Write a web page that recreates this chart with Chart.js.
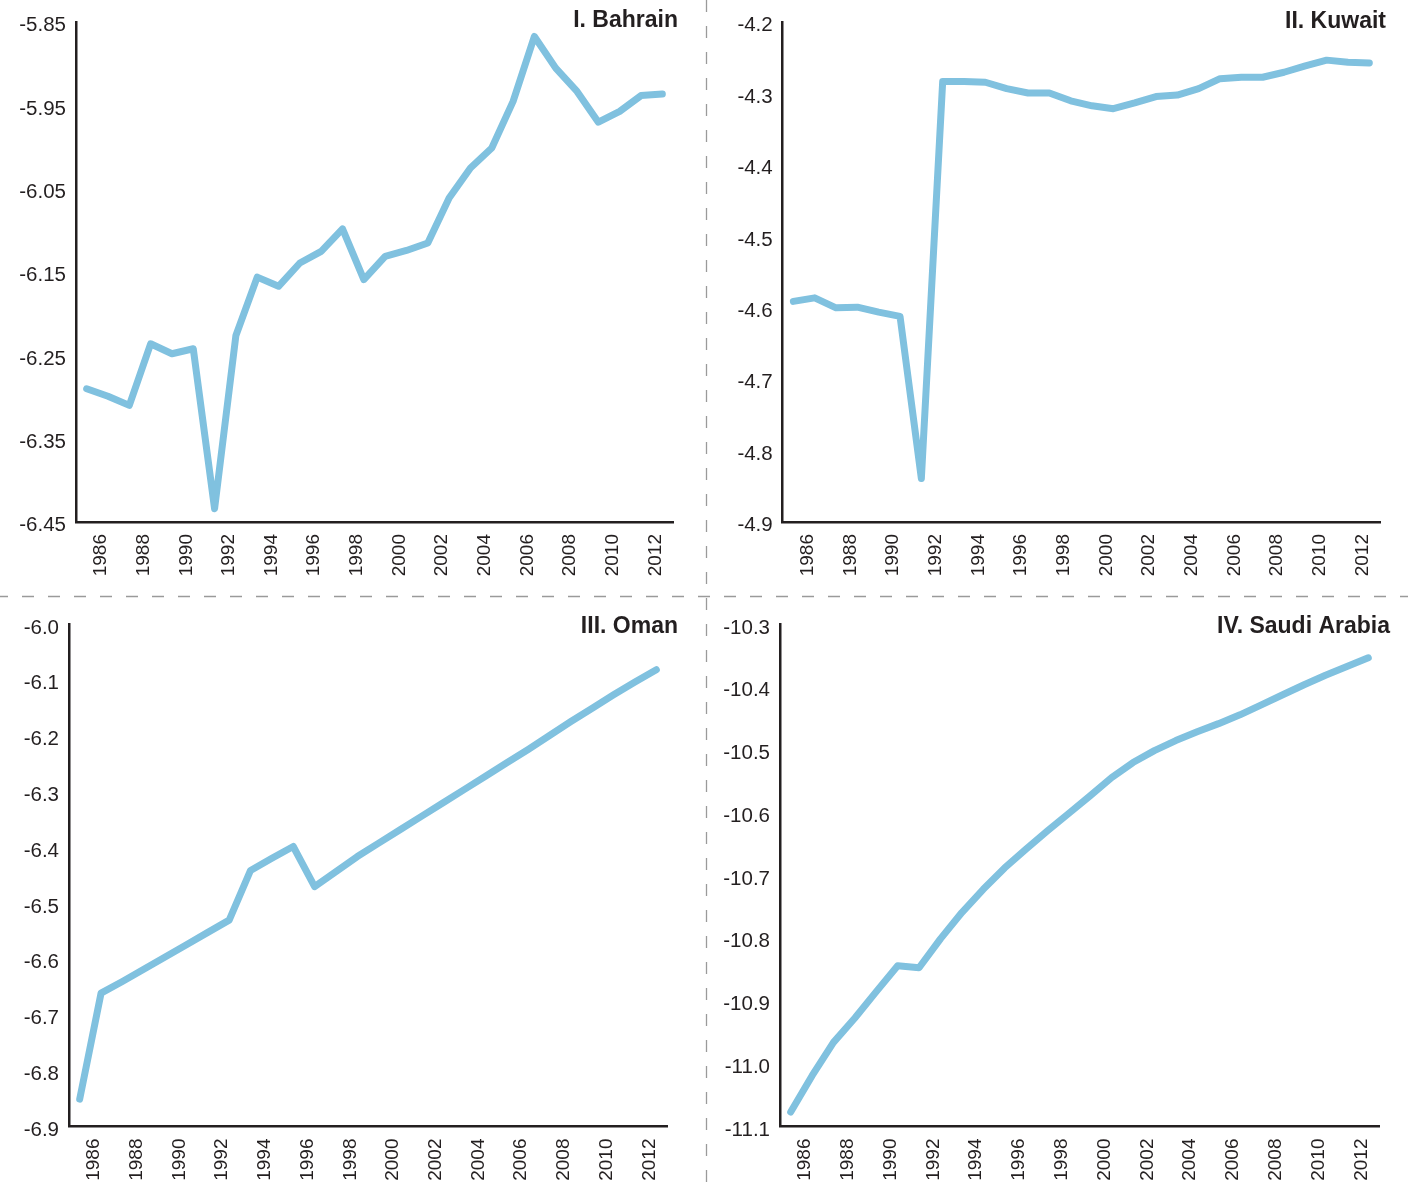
<!DOCTYPE html>
<html>
<head>
<meta charset="utf-8">
<script src="https://cdn.jsdelivr.net/npm/chart.js@4.4.1/dist/chart.umd.min.js"></script>
<style>
  html, body { margin: 0; padding: 0; background: #ffffff; }
  #wrap { position: relative; width: 1408px; height: 1184px; overflow: hidden; }
  canvas { position: absolute; }
</style>
</head>
<body>
<div id="wrap">
  <canvas id="sep" width="1408" height="1184" style="left:0;top:0"></canvas>
  <canvas id="c1" width="704" height="596" style="left:0;top:0"></canvas>
  <canvas id="c2" width="700" height="596" style="left:708px;top:0"></canvas>
  <canvas id="c3" width="704" height="587" style="left:0;top:597px"></canvas>
  <canvas id="c4" width="700" height="587" style="left:708px;top:597px"></canvas>
</div>
<script>
// Years on the horizontal axis (every other one is labelled)
const years = [1985, 1986, 1987, 1988, 1989, 1990, 1991, 1992, 1993, 1994,
               1995, 1996, 1997, 1998, 1999, 2000, 2001, 2002, 2003, 2004,
               2005, 2006, 2007, 2008, 2009, 2010, 2011, 2012];

// Series values
const bahrain = [-6.290, -6.299, -6.310, -6.236, -6.248, -6.242, -6.434, -6.226, -6.156, -6.167,
                 -6.139, -6.125, -6.098, -6.159, -6.131, -6.124, -6.115, -6.061, -6.025, -6.001,
                 -5.945, -5.867, -5.905, -5.933, -5.970, -5.957, -5.938, -5.936];
const kuwait  = [-4.591, -4.586, -4.600, -4.599, -4.606, -4.612, -4.839, -4.283, -4.283, -4.284,
                 -4.293, -4.299, -4.299, -4.310, -4.317, -4.321, -4.313, -4.304, -4.302, -4.293,
                 -4.279, -4.277, -4.277, -4.270, -4.261, -4.253, -4.256, -4.257];
const oman    = [-6.851, -6.661, -6.640, -6.618, -6.596, -6.574, -6.552, -6.530, -6.441, -6.419,
                 -6.398, -6.470, -6.443, -6.416, -6.392, -6.368, -6.344, -6.320, -6.296, -6.272,
                 -6.248, -6.224, -6.199, -6.174, -6.150, -6.126, -6.103, -6.081];
const saudi   = [-11.077, -11.019, -10.966, -10.927, -10.885, -10.844, -10.847, -10.801, -10.759, -10.722,
                 -10.688, -10.658, -10.629, -10.601, -10.573, -10.544, -10.520, -10.501, -10.485, -10.471,
                 -10.458, -10.444, -10.428, -10.412, -10.396, -10.381, -10.367, -10.353];

// Vertical axis ticks
const bahrainTicks = [-6.45, -6.35, -6.25, -6.15, -6.05, -5.95, -5.85];
const bahrainTickLabels = ['-6.45', '-6.35', '-6.25', '-6.15', '-6.05', '-5.95', '-5.85'];
const kuwaitTicks = [-4.9, -4.8, -4.7, -4.6, -4.5, -4.4, -4.3, -4.2];
const kuwaitTickLabels = ['-4.9', '-4.8', '-4.7', '-4.6', '-4.5', '-4.4', '-4.3', '-4.2'];
const omanTicks = [-6.9, -6.8, -6.7, -6.6, -6.5, -6.4, -6.3, -6.2, -6.1, -6.0];
const omanTickLabels = ['-6.9', '-6.8', '-6.7', '-6.6', '-6.5', '-6.4', '-6.3', '-6.2', '-6.1', '-6.0'];
const saudiTicks = [-11.1, -11.0, -10.9, -10.8, -10.7, -10.6, -10.5, -10.4, -10.3];
const saudiTickLabels = ['-11.1', '-11.0', '-10.9', '-10.8', '-10.7', '-10.6', '-10.5', '-10.4', '-10.3'];

// Panel titles
const titles = ['I. Bahrain', 'II. Kuwait', 'III. Oman', 'IV. Saudi Arabia'];

// ---- dashed separators between the four panels ----
(function drawSeparators() {
  const g = document.getElementById('sep').getContext('2d');
  g.strokeStyle = '#9a9a9a';
  g.lineWidth = 1.3;
  g.setLineDash([12, 14]);
  g.lineDashOffset = 4;
  g.beginPath(); g.moveTo(0, 596.5); g.lineTo(1408, 596.5); g.stroke();
  g.lineDashOffset = 0;
  g.beginPath(); g.moveTo(706.5, 0); g.lineTo(706.5, 1184); g.stroke();
})();

const FONT = "'Liberation Sans', Arial, Helvetica, sans-serif";
const INK = '#231f20';
const LINE = '#80c1df';

// Title drawn inside the panel, right aligned at the top
const panelTitle = {
  id: 'panelTitle',
  afterDraw(chart, args, opts) {
    const ctx = chart.ctx;
    ctx.save();
    ctx.font = 'bold 23px ' + FONT;
    ctx.fillStyle = INK;
    ctx.textAlign = 'right';
    ctx.textBaseline = 'middle';
    ctx.fillText(opts.text, opts.x, opts.y);
    ctx.restore();
  }
};

function makePanel(p) {
  const canvas = document.getElementById(p.id);
  const H = canvas.height, W = canvas.width;
  new Chart(canvas, {
    type: 'line',
    data: {
      labels: years,
      datasets: [{
        data: p.values,
        borderColor: LINE,
        borderWidth: 7,
        borderCapStyle: 'round',
        borderJoinStyle: 'round',
        pointRadius: 0,
        tension: 0,
        fill: false
      }]
    },
    options: {
      responsive: false,
      animation: false,
      events: [],
      layout: { padding: { left: 0, right: W - p.right, top: p.top, bottom: 0 } },
      plugins: {
        legend: { display: false },
        tooltip: { enabled: false },
        panelTitle: { text: p.title, x: p.titleX, y: p.titleY }
      },
      scales: {
        x: {
          type: 'category',
          offset: true,
          grid: { display: false, drawTicks: false },
          border: { display: true, color: INK, width: 2.5 },
          afterFit(s) { s.height = H - p.bottom; },
          ticks: {
            autoSkip: false,
            minRotation: 90,
            maxRotation: 90,
            padding: 12,
            labelOffset: -7,
            color: INK,
            font: { family: FONT, size: 19 },
            callback(value, index) {
              const y = years[index];
              return y % 2 === 0 ? String(y) : '';
            }
          }
        },
        y: {
          type: 'linear',
          min: p.ticks[0],
          max: p.ticks[p.ticks.length - 1],
          grid: { display: false, drawTicks: false },
          border: { display: true, color: INK, width: 2.5 },
          afterFit(s) { s.width = p.left; },
          afterBuildTicks(s) { s.ticks = p.ticks.map(v => ({ value: v })); },
          ticks: {
            padding: 10,
            labelOffset: 3.5,
            color: INK,
            font: { family: FONT, size: 20.5 },
            callback(value, index) { return p.tickLabels[index]; }
          }
        }
      }
    },
    plugins: [panelTitle]
  });
}

makePanel({ id: 'c1', values: bahrain, ticks: bahrainTicks, tickLabels: bahrainTickLabels,
            title: titles[0], left: 76, right: 673, top: 20.5, bottom: 522, titleX: 678, titleY: 21 });
makePanel({ id: 'c2', values: kuwait, ticks: kuwaitTicks, tickLabels: kuwaitTickLabels,
            title: titles[1], left: 74.7, right: 672, top: 20.5, bottom: 522, titleX: 678, titleY: 22 });
makePanel({ id: 'c3', values: oman, ticks: omanTicks, tickLabels: omanTickLabels,
            title: titles[2], left: 69, right: 667, top: 27.5, bottom: 529.5, titleX: 678, titleY: 29.5 });
makePanel({ id: 'c4', values: saudi, ticks: saudiTicks, tickLabels: saudiTickLabels,
            title: titles[3], left: 72, right: 671, top: 27.5, bottom: 529.5, titleX: 682, titleY: 30 });
</script>
</body>
</html>
